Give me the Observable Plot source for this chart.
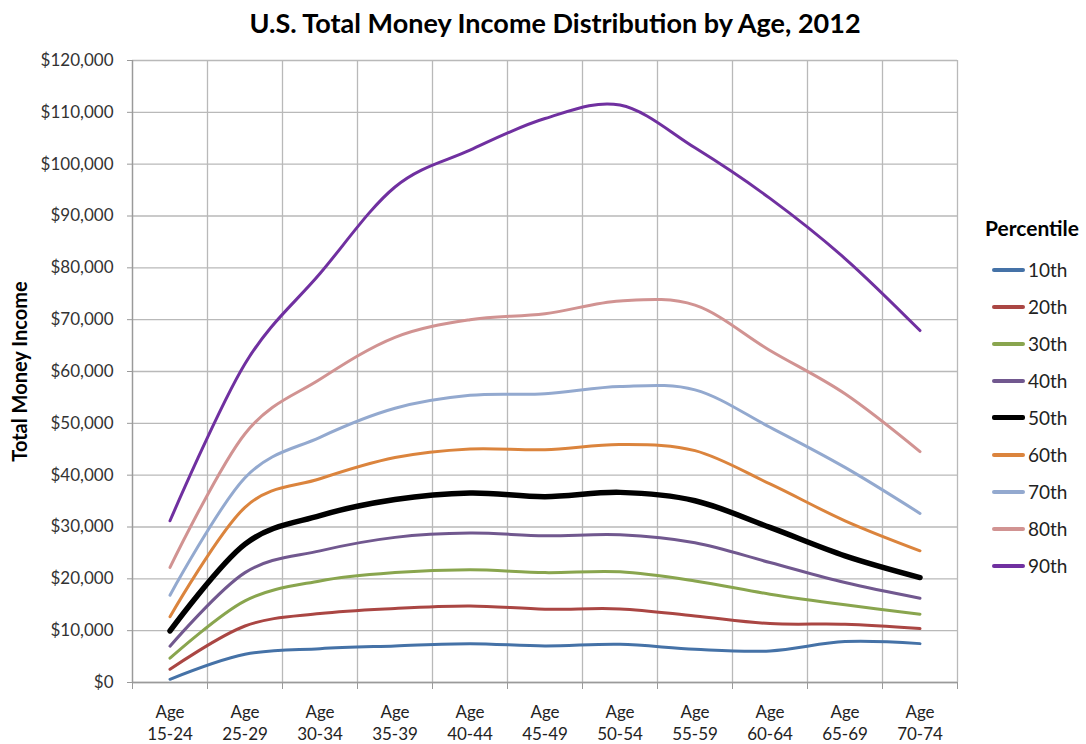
<!DOCTYPE html>
<html>
<head>
<meta charset="utf-8">
<script src="https://cdn.jsdelivr.net/npm/d3@7"></script>
<script src="https://cdn.jsdelivr.net/npm/@observablehq/plot@0.6"></script>
<style>
  body { margin: 0; background: #fff; font-family: Lato, "Open Sans", sans-serif; }
  #wrap { position: relative; width: 1086px; height: 744px; }
  #title { position: absolute; left: 0; top: 0; width: 1110px; height: 45px; text-align: center; font-weight: bold; font-size: 27px; line-height: 45px; color: #000; }
  #chart { position: absolute; left: 0; top: 45px; }
  #legend { position: absolute; left: 985px; top: 213px; color: #222; }
  #legend .head { font-weight: bold; font-size: 21px; color: #000; height: 30px; line-height: 30px; margin-bottom: 8px; }
  #legend .item { display: flex; align-items: center; height: 37px; font-size: 19px; }
  #legend .sw { width: 33px; margin-left: 7px; margin-right: 3px; border-radius: 2px; }
</style>
</head>
<body>
<div id="wrap">
  <div id="title">U.S. Total Money Income Distribution by Age, 2012</div>
  <div id="chart"></div>
  <div id="legend"></div>
</div>
<script>
const ages = ["15-24","25-29","30-34","35-39","40-44","45-49","50-54","55-59","60-64","65-69","70-74"];
const percentiles = ["10th","20th","30th","40th","50th","60th","70th","80th","90th"];
const p10 = [620, 5450, 6530, 7050, 7500, 7050, 7380, 6410, 6090, 7890, 7500];
const p20 = [2550, 10900, 13300, 14300, 14780, 14150, 14200, 12850, 11370, 11240, 10400];
const p30 = [4680, 15750, 19600, 21200, 21740, 21200, 21350, 19600, 17040, 14980, 13180];
const p40 = [7000, 21200, 25400, 28000, 28830, 28300, 28500, 26960, 23150, 19290, 16270];
const p50 = [9950, 26700, 32200, 35300, 36560, 35850, 36680, 35070, 29920, 24440, 20250];
const p60 = [12700, 33800, 39300, 43400, 45060, 44900, 45900, 44730, 38300, 31200, 25410];
const p70 = [16850, 39500, 47300, 52900, 55400, 55700, 57100, 56460, 49240, 41500, 32620];
const p80 = [22200, 48000, 58500, 66600, 70000, 71150, 73600, 72800, 64060, 55700, 44540];
const p90 = [31200, 61500, 78900, 95600, 102700, 108800, 111400, 103150, 93400, 81800, 67900];
const yTicks = [0,10000,20000,30000,40000,50000,60000,70000,80000,90000,100000,110000,120000];

const seriesValues = [p10,p20,p30,p40,p50,p60,p70,p80,p90];
const colors = ["#4572A7","#AA4643","#89A54E","#71588F","#000000","#DB843D","#93A9CF","#D19392","#7030A0"];
const widths = [3,3,3,3,5.5,3,3,3,3];

const idx = ages.map((_, i) => i);
const bounds = d3.range(-0.5, ages.length, 1);
const data = [];
percentiles.forEach((p, s) => {
  seriesValues[s].forEach((v, i) => data.push({p, i, v}));
});

const marks = [
  Plot.gridX(bounds, {stroke: "#b9b9b9", strokeOpacity: 1, strokeWidth: 1.3}),
  Plot.gridY(yTicks, {stroke: "#b9b9b9", strokeOpacity: 1, strokeWidth: 1.3}),
  Plot.ruleX([-0.5], {stroke: "#9a9a9a", strokeWidth: 1.3}),
  Plot.ruleY([0], {stroke: "#9a9a9a", strokeWidth: 1.3}),
  Plot.axisY(yTicks, {tickSize: 5, tickPadding: 14, stroke: "#9a9a9a", fill: "#333", fontSize: 17,
    tickFormat: d => "$" + d3.format(",")(d), label: null}),
  Plot.axisX(bounds, {tickSize: 7, stroke: "#9a9a9a", tickFormat: () => "", label: null}),
  Plot.axisX(idx, {tickSize: 0, tickPadding: 20, fill: "#222", fontSize: 17, lineHeight: 1.3,
    tickFormat: i => "Age\n" + ages[i], label: null}),
  Plot.text(["Total Money Income"], {frameAnchor: "left", dx: -112, rotate: -90, textAnchor: "middle",
    fontSize: 20, fontWeight: "bold", fill: "#000"})
];
percentiles.forEach((p, s) => {
  marks.push(Plot.line(data.filter(d => d.p === p), {
    x: "i", y: "v", stroke: colors[s], strokeWidth: widths[s], curve: "cardinal",
    strokeLinecap: "round", strokeLinejoin: "round"
  }));
});

const chart = Plot.plot({
  width: 1086,
  height: 699,
  marginLeft: 132,
  marginRight: 129,
  marginTop: 15,
  marginBottom: 62,
  style: {fontFamily: "Lato, 'Open Sans', sans-serif", background: "#fff", overflow: "visible"},
  x: {domain: [-0.5, ages.length - 0.5], axis: null},
  y: {domain: [0, 120000], axis: null},
  marks
});
document.getElementById("chart").appendChild(chart);

const legend = document.getElementById("legend");
legend.innerHTML = '<div class="head">Percentile</div>' + percentiles.map((p, s) =>
  `<div class="item"><span class="sw" style="height:${s === 4 ? 5 : 4}px;background:${colors[s]}"></span><span>${p}</span></div>`
).join("");
</script>
</body>
</html>
